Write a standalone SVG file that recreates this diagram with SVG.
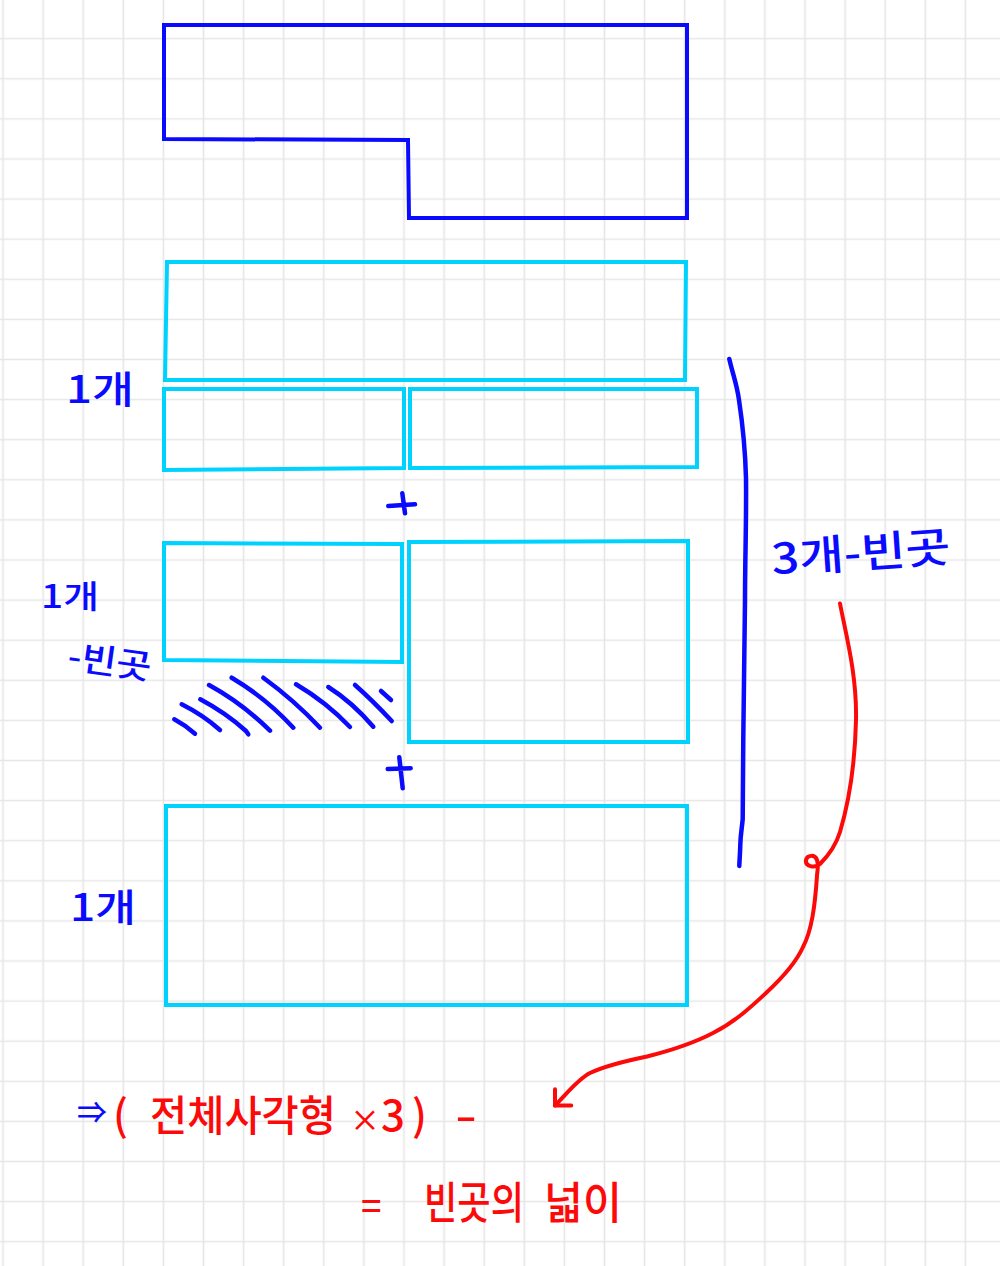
<svg xmlns="http://www.w3.org/2000/svg" width="1000" height="1266" viewBox="0 0 1000 1266">
<defs>
<pattern id="grid" width="40.1" height="40.1" patternUnits="userSpaceOnUse" x="-17.05" y="-21.45">
<path d="M20.05 0V40.1M0 20.05H40.1" stroke="#e6e6e6" stroke-width="1.6" fill="none"/>
</pattern>
<marker id="arrow" viewBox="-20 -20 40 40" markerWidth="40" markerHeight="40" refX="0" refY="0" orient="auto" markerUnits="userSpaceOnUse">
<path d="M-11.5 -11.5L0 0L-11.5 11.5" fill="none" stroke="#fc0a0a" stroke-width="4" stroke-linecap="round" stroke-linejoin="round"/>
</marker>
<style>
.dk{fill:none;stroke:#0a0aff;stroke-width:4;stroke-linejoin:miter}
.cy{fill:none;stroke:#00d2ff;stroke-width:4;stroke-linejoin:miter}
.pen{fill:none;stroke:#0a0aff;stroke-width:4.5;stroke-linecap:round;stroke-linejoin:round}
.red{fill:none;stroke:#fc0a0a;stroke-width:4;stroke-linecap:round;stroke-linejoin:round}
.tb{font-family:"Noto Sans CJK KR","Noto Sans",sans-serif;fill:#0a0aff;font-weight:500}
.tr{font-family:"Noto Sans CJK KR","Noto Sans",sans-serif;fill:#fc0a0a;font-weight:500}
</style>
</defs>
<rect width="1000" height="1266" fill="#ffffff"/>
<rect width="1000" height="1266" fill="url(#grid)"/>

<g id="whole-shape">
<polygon class="dk" points="164,25 687,25 687,218 409,218 408,140 164,139"/>
</g>

<g id="rect-top">
<polygon class="cy" points="167,262 686,262 685,380 165,380"/>
</g>
<g id="rect-small-left">
<polygon class="cy" points="164,389 404,389 404,468 164,470"/>
</g>
<g id="rect-small-right">
<polygon class="cy" points="410,389 697,389 697,467 410,468"/>
</g>
<g id="rect-mid-left">
<polygon class="cy" points="164,543 402,544 402,662 164,660"/>
</g>
<g id="rect-mid-right">
<polygon class="cy" points="409,542 688,541 688,742 409,742"/>
</g>
<g id="rect-bottom">
<polygon class="cy" points="166,806 687,806 687,1005 166,1005"/>
</g>

<g id="hatch">
<path class="pen" d="M174.3 719.3Q185 725 195 733.7"/>
<path class="pen" d="M181.7 704.3Q203 715 220 730"/>
<path class="pen" d="M200.3 699.3Q226 713 246 731L248.3 734.3"/>
<path class="pen" d="M209 685Q242 703 270 730.7"/>
<path class="pen" d="M231.7 677.7Q266 698 293.3 727.7"/>
<path class="pen" d="M263.3 677.7Q294 700 320 727.7"/>
<path class="pen" d="M296 684.3Q326 702 350 727"/>
<path class="pen" d="M328.3 687Q352 702 373.3 726.7"/>
<path class="pen" d="M355 685Q372 700 391.7 721"/>
<path class="pen" d="M381 691L391 700"/>
</g>

<g id="plus-1">
<path class="pen" d="M388.3 506L415 504.3M402.3 493.3L405 513.3"/>
</g>
<g id="plus-2">
<path class="pen" d="M387.7 769L410.7 768.3M399.3 757.3L402.7 788.3"/>
</g>

<g id="label-1">
<text class="tb" x="66" y="403" font-size="38" textLength="68" lengthAdjust="spacingAndGlyphs">1개</text>
</g>
<g id="label-2">
<text class="tb" x="41" y="608" font-size="32" textLength="58" lengthAdjust="spacingAndGlyphs">1개</text>
<text class="tb" x="68" y="674" font-size="34" textLength="84" lengthAdjust="spacingAndGlyphs" transform="rotate(8 110 660)">-빈곳</text>
</g>
<g id="label-3">
<text class="tb" x="70" y="921" font-size="38" textLength="66" lengthAdjust="spacingAndGlyphs">1개</text>
</g>
<g id="label-4">
<text class="tb" x="771" y="568" font-size="42" textLength="179" lengthAdjust="spacingAndGlyphs" transform="rotate(-4 860 548)">3개-빈곳</text>
</g>

<g id="connectors">
<path class="pen" d="M729.3 359C733 375 737 385 739 400C742 420 745 440 746 478C746.5 520 745 560 745 600C744.5 650 744 700 743.3 737C743 780 743 810 742.7 819C742 828 740.5 834 740.3 845C740 855 739.5 860 739.3 866"/>
<path class="red" marker-end="url(#arrow)" d="M840 603.5C846 635 857 675 856 720C855 765 848 805 840 832C835 848 826 858 820 864C814 869 805 866 806 860C807 855 815 854 817 860C819 866 817 872 817 876C815 905 812 930 803 947C795 965 780 980 766 993C752 1006 735 1022 713 1033C690 1045 665 1052 647 1056.5C625 1061 603 1067 590 1073C578 1079 566 1094.5 555 1105.5"/>
</g>

<g id="formula">
<text class="tb" x="77" y="1123" font-size="30">⇒</text>
<text class="tr" y="1131" font-size="42"><tspan x="113">(</tspan><tspan x="150" textLength="186" lengthAdjust="spacingAndGlyphs">전체사각형</tspan><tspan x="350" font-size="30">×</tspan><tspan x="381">3</tspan><tspan x="412">)</tspan><tspan x="455" textLength="22" lengthAdjust="spacingAndGlyphs">-</tspan></text>
<text class="tr" y="1219" font-size="44"><tspan x="361" font-size="36">=</tspan><tspan x="424" textLength="100" lengthAdjust="spacingAndGlyphs">빈곳의</tspan><tspan x="544" textLength="78" lengthAdjust="spacingAndGlyphs">넓이</tspan></text>
</g>
</svg>
